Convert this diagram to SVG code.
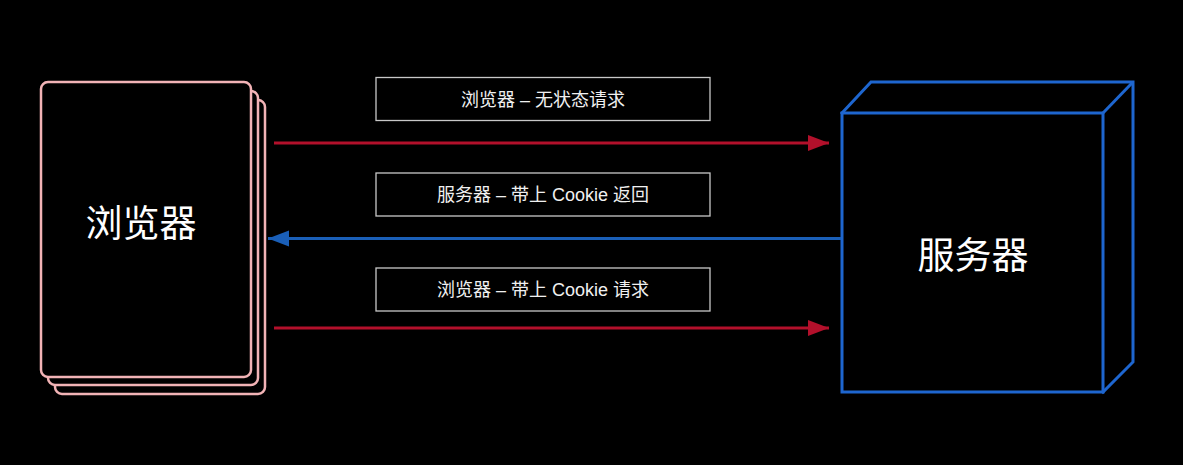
<svg xmlns="http://www.w3.org/2000/svg" width="1183" height="465" viewBox="0 0 1183 465">
<style>
.page{fill:#000;stroke:#f2b3b6;stroke-width:2.5}
.cube{fill:#000;stroke:#1e66cf;stroke-width:3;stroke-linejoin:miter}
.big{font-family:"Noto Sans CJK SC","Liberation Sans",sans-serif;font-size:37px;fill:#fff;text-anchor:middle}
.lbl{fill:#000;stroke:#c8c8c8;stroke-width:1.3}
.lt{font-family:"Liberation Sans","Noto Sans CJK SC",sans-serif;font-size:18px;fill:#f0f0f0;text-anchor:middle}
.red{stroke:#b2102b;stroke-width:3;fill:none}
.blue{stroke:#1a5fb8;stroke-width:3;fill:none}
</style>
<defs>
<marker id="ar" markerUnits="userSpaceOnUse" markerWidth="22" markerHeight="18" refX="21" refY="9" orient="auto">
<path d="M0,1 L21,9 L0,17 Z" fill="#b2102b"/>
</marker>
<marker id="ab" markerUnits="userSpaceOnUse" markerWidth="22" markerHeight="18" refX="21" refY="9" orient="auto">
<path d="M0,1 L21,9 L0,17 Z" fill="#1a5fb8"/>
</marker>
</defs>
<rect width="1183" height="465" fill="#000"/>
<g id="browser">
<rect class="page" x="55" y="100" width="210" height="294" rx="7"/>
<rect class="page" x="48" y="91" width="210" height="294" rx="7"/>
<rect class="page" x="41" y="82" width="210" height="295" rx="7"/>
<text class="big" x="141" y="237">浏览器</text>
</g>
<g id="server">
<path class="cube" d="M842,113 L871,82 L1133,82 L1133,362 L1103,392 Z"/>
<path class="cube" d="M1103,113 L1133,82"/>
<rect class="cube" x="842" y="113" width="261" height="279"/>
<text class="big" x="973" y="269">服务器</text>
</g>
<g id="label1">
<rect class="lbl" x="376" y="77.5" width="334" height="43"/>
<text class="lt" x="543" y="105.5">浏览器 – 无状态请求</text>
</g>
<g id="label2">
<rect class="lbl" x="376" y="173" width="334" height="43"/>
<text class="lt" x="543" y="201">服务器 – 带上 Cookie 返回</text>
</g>
<g id="label3">
<rect class="lbl" x="376" y="268" width="334" height="43"/>
<text class="lt" x="543" y="296">浏览器 – 带上 Cookie 请求</text>
</g>
<g id="connectors">
<line class="red" x1="274" y1="143" x2="829" y2="143" marker-end="url(#ar)"/>
<line class="blue" x1="841" y1="238.5" x2="268" y2="238.5" marker-end="url(#ab)"/>
<line class="red" x1="274" y1="328" x2="829" y2="328" marker-end="url(#ar)"/>
</g>
</svg>
